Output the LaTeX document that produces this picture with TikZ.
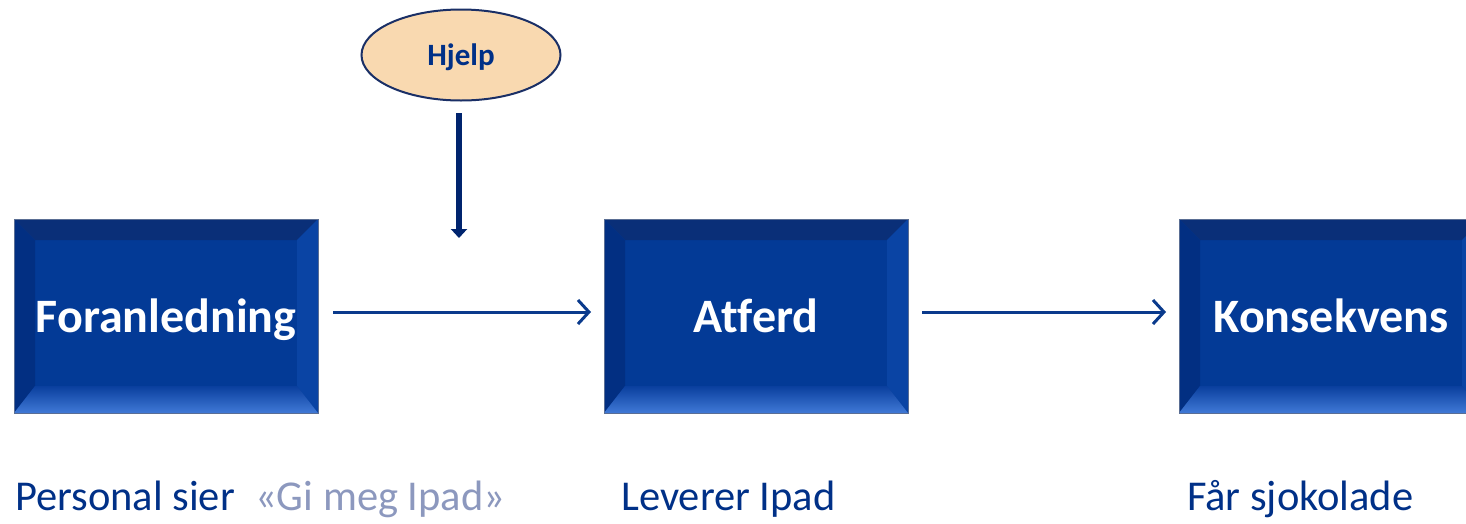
\documentclass[tikz,border=0pt]{standalone}
\usepackage{fontspec}
\setmainfont{Carlito}[Ligatures=NoCommon]
\usetikzlibrary{arrows.meta,shapes.geometric,calc}
\definecolor{boxmid}{HTML}{033A96}
\definecolor{boxtop}{HTML}{0A2F78}
\definecolor{boxleft}{HTML}{022F82}
\definecolor{boxright}{HTML}{0A44A4}
\definecolor{boxbotA}{HTML}{0A3F9E}
\definecolor{boxbotB}{HTML}{4079D6}
\definecolor{boxedge}{HTML}{5A6E94}
\definecolor{navy}{HTML}{003087}
\definecolor{arrowblue}{HTML}{0A3A8C}
\definecolor{darknavy}{HTML}{00246E}
\definecolor{peach}{HTML}{F9D9B0}
\definecolor{ellipseedge}{HTML}{1A2F66}
\definecolor{quotegray}{HTML}{8C98BE}
\tikzset{
  bevelbox/.style={rectangle, minimum width=304pt, minimum height=194pt,
    inner sep=0pt, fill=boxmid, draw=boxedge, line width=0.8pt,
    text height=32pt, text depth=0pt,
    text=white, font=\bfseries\fontsize{48}{56}\selectfont,
    path picture={
      \fill[boxtop] (path picture bounding box.north west) -- (path picture bounding box.north east)
        -- ([shift={(-21pt,-21pt)}]path picture bounding box.north east)
        -- ([shift={(21pt,-21pt)}]path picture bounding box.north west) -- cycle;
      \fill[boxleft] (path picture bounding box.north west) -- (path picture bounding box.south west)
        -- ([shift={(21pt,27pt)}]path picture bounding box.south west)
        -- ([shift={(21pt,-21pt)}]path picture bounding box.north west) -- cycle;
      \fill[boxright] (path picture bounding box.north east) -- (path picture bounding box.south east)
        -- ([shift={(-21pt,27pt)}]path picture bounding box.south east)
        -- ([shift={(-21pt,-21pt)}]path picture bounding box.north east) -- cycle;
      \shade[top color=boxbotA, bottom color=boxbotB] (path picture bounding box.south west) -- (path picture bounding box.south east)
        -- ([shift={(-21pt,27pt)}]path picture bounding box.south east)
        -- ([shift={(21pt,27pt)}]path picture bounding box.south west) -- cycle;
    }},
  flowarrow/.style={draw=arrowblue, line width=3pt, -{Straight Barb[length=11pt,width=24pt,line width=3pt]}},
  helparrow/.style={draw=darknavy, line width=6pt, -{Triangle[length=9pt,width=16pt]}},
  caption/.style={anchor=base west, inner sep=0pt, text=navy, font=\fontsize{42.5}{50}\selectfont}
}
\begin{document}
\begin{tikzpicture}[x=1pt,y=-1pt]
\useasboundingbox (0,0) rectangle (1466,523);
\node[bevelbox] (fora) at (166,316) {Foranledning};
\node[bevelbox] (atf) at (756,316) {Atferd};
\node[bevelbox] (kons) at (1331,316) {Konsekvens};
\node[ellipse, minimum width=199pt, minimum height=91pt, inner sep=0pt, fill=peach,
      draw=ellipseedge, line width=2pt, text=navy, text height=20pt, text depth=0pt,
      font=\bfseries\fontsize{31}{36}\selectfont] (help) at (461,55) {Hjelp};
\coordinate (helpend) at (459,238);
\coordinate (aA) at (333,312);
\coordinate (aB) at (591,312);
\coordinate (bA) at (922,312);
\coordinate (bB) at (1166,312);
\draw[flowarrow] (aA) -- (aB);
\draw[flowarrow] (bA) -- (bB);
\draw[helparrow] (459,113) -- (helpend);
\node[caption] (c1) at (15,510) {Personal sier};
\node[caption, text=quotegray] (c1q) at (255,510) {«Gi meg Ipad»};
\node[caption] (c2) at (621,510) {Leverer Ipad};
\node[caption] (c3) at (1187,510) {Får sjokolade};
\end{tikzpicture}
\end{document}
